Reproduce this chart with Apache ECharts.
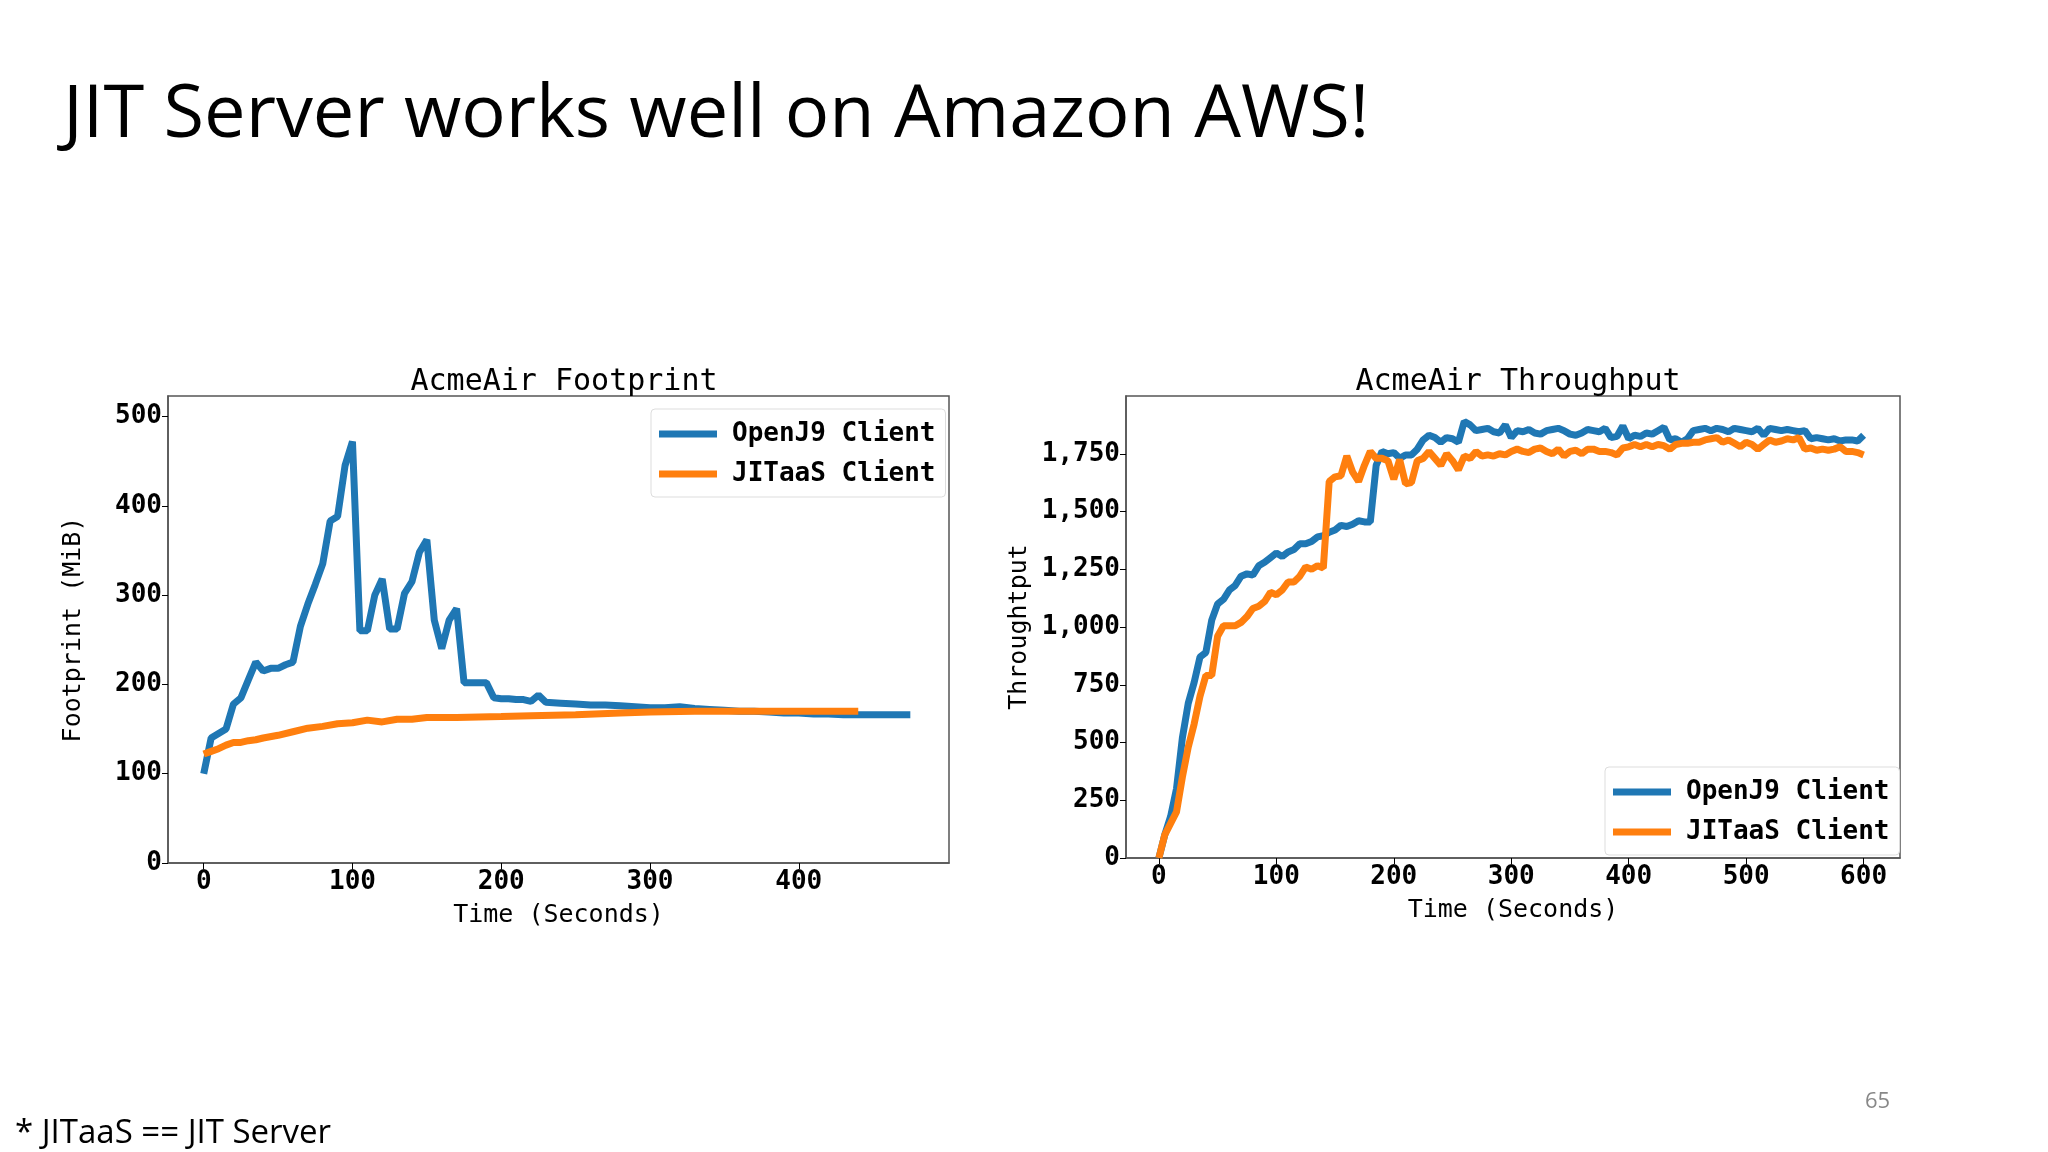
<!DOCTYPE html>
<html><head><meta charset="utf-8">
<script src="https://cdn.jsdelivr.net/npm/echarts@6/dist/echarts.min.js"></script>
<style>html,body{margin:0;padding:0;background:#fff}#c{width:2048px;height:1152px}</style>
</head><body><div id="c"></div>
<script>
const seriesNames = ['OpenJ9 Client', 'JITaaS Client'];
const fpOpenJ9 = [[0,100],[5,140],[10,145],[15,150],[20,178],[25,185],[30,205],[35,225],[40,215],[45,218],[50,218],[55,222],[60,225],[65,265],[70,290],[75,312],[80,335],[85,383],[90,388],[95,445],[100,472],[105,260],[110,260],[115,300],[120,318],[125,262],[130,262],[135,302],[140,315],[145,348],[150,362],[155,272],[160,240],[165,272],[170,285],[175,202],[180,202],[185,202],[190,202],[195,185],[200,184],[205,184],[210,183],[215,183],[220,181],[225,188],[230,180],[240,179],[250,178],[260,177],[270,177],[280,176],[290,175],[300,174],[310,174],[320,175],[330,173],[340,172],[350,171],[360,170],[370,170],[380,169],[390,168],[400,168],[410,167],[420,167],[430,166],[440,166],[450,166],[460,166],[475,166]];
const fpJITaaS = [[0,122],[5,125],[10,128],[15,132],[20,135],[25,135],[30,137],[35,138],[40,140],[50,143],[60,147],[70,151],[80,153],[90,156],[100,157],[110,160],[120,158],[130,161],[140,161],[150,163],[170,163],[200,164],[220,165],[250,166],[280,168],[300,169],[330,170],[360,170],[400,170],[440,170]];
const tpOpenJ9 = [[0,0],[5,100],[10,180],[15,300],[20,520],[25,670],[30,760],[35,870],[40,890],[45,1030],[50,1100],[55,1120],[60,1160],[65,1180],[70,1220],[75,1230],[80,1225],[85,1265],[90,1280],[95,1300],[100,1320],[105,1305],[110,1325],[115,1335],[120,1360],[125,1360],[130,1370],[135,1390],[140,1395],[145,1410],[150,1420],[155,1440],[160,1435],[165,1445],[170,1460],[175,1455],[180,1455],[185,1700],[190,1760],[195,1750],[200,1755],[205,1730],[210,1745],[215,1745],[220,1770],[225,1810],[230,1830],[235,1820],[240,1800],[245,1820],[250,1815],[255,1800],[260,1890],[265,1875],[270,1850],[275,1855],[280,1860],[285,1845],[290,1840],[295,1875],[300,1820],[305,1850],[310,1845],[315,1855],[320,1840],[325,1835],[330,1850],[335,1855],[340,1860],[345,1850],[350,1835],[355,1830],[360,1840],[365,1855],[370,1850],[375,1845],[380,1860],[385,1820],[390,1825],[395,1870],[400,1815],[405,1830],[410,1825],[415,1840],[420,1835],[425,1850],[430,1865],[435,1810],[440,1815],[445,1800],[450,1815],[455,1850],[460,1855],[465,1860],[470,1850],[475,1860],[480,1855],[485,1845],[490,1860],[495,1855],[500,1850],[505,1845],[510,1860],[515,1830],[520,1860],[525,1855],[530,1850],[535,1855],[540,1850],[545,1845],[550,1850],[555,1815],[560,1820],[565,1815],[570,1810],[575,1815],[580,1805],[585,1810],[590,1810],[595,1805],[600,1830]];
const tpJITaaS = [[0,0],[5,100],[10,150],[15,200],[20,350],[25,480],[30,580],[35,700],[40,790],[45,790],[50,960],[55,1005],[60,1005],[65,1005],[70,1020],[75,1045],[80,1080],[85,1090],[90,1110],[95,1150],[100,1140],[105,1160],[110,1195],[115,1195],[120,1220],[125,1260],[130,1250],[135,1265],[140,1255],[145,1630],[150,1650],[155,1655],[160,1740],[165,1670],[170,1630],[175,1700],[180,1760],[185,1730],[190,1730],[195,1720],[200,1640],[205,1725],[210,1620],[215,1625],[220,1720],[225,1730],[230,1760],[235,1730],[240,1700],[245,1750],[250,1720],[255,1680],[260,1740],[265,1730],[270,1760],[275,1740],[280,1745],[285,1740],[290,1750],[295,1745],[300,1760],[305,1770],[310,1760],[315,1755],[320,1770],[325,1775],[330,1760],[335,1750],[340,1770],[345,1740],[350,1760],[355,1765],[360,1750],[365,1770],[370,1770],[375,1760],[380,1760],[385,1755],[390,1745],[395,1775],[400,1780],[405,1790],[410,1780],[415,1790],[420,1780],[425,1790],[430,1785],[435,1770],[440,1790],[445,1795],[450,1795],[455,1800],[460,1800],[465,1810],[470,1815],[475,1820],[480,1800],[485,1810],[490,1795],[495,1780],[500,1800],[505,1790],[510,1770],[515,1790],[520,1810],[525,1800],[530,1805],[535,1815],[540,1810],[545,1820],[550,1770],[555,1775],[560,1765],[565,1770],[570,1765],[575,1770],[580,1780],[585,1760],[590,1760],[595,1755],[600,1745]];
const fpXTicks = [0,100,200,300,400];
const tpXTicks = [0,100,200,300,400,500,600];
const fpYTicks = [0,100,200,300,400,500];
const tpYTicks = [0,250,500,750,1000,1250,1500,1750];

const BLUE = '#1f77b4', ORANGE = '#ff7f0e';
const mono = 'DejaVu Sans Mono';
const tickLbl = {fontFamily: mono, fontWeight: 'bold', fontSize: 26, color: '#000'};
function xAx(gi, min, max, ticks) {
  return {gridIndex: gi, type: 'value', min, max,
    name: 'Time (Seconds)', nameLocation: 'middle', nameGap: 40,
    nameTextStyle: {fontFamily: mono, fontSize: 25, color: '#000'},
    axisLine: {show: true, onZero: false, lineStyle: {color: '#555', width: 1.5}}, splitLine: {show: false},
    axisTick: {show: true, length: 6, customValues: ticks, lineStyle: {color: '#000'}},
    axisLabel: Object.assign({}, tickLbl, {margin: 6, customValues: ticks})};
}
function yAx(gi, min, max, name, gap, ticks) {
  return {gridIndex: gi, type: 'value', min, max,
    name, nameLocation: 'middle', nameGap: gap,
    nameTextStyle: {fontFamily: mono, fontSize: 25, color: '#000'},
    axisLine: {show: true, onZero: false, lineStyle: {color: '#555', width: 1.5}}, splitLine: {show: false},
    axisTick: {show: true, length: 6, customValues: ticks, lineStyle: {color: '#000'}},
    axisLabel: Object.assign({}, tickLbl, {margin: 6, customValues: ticks})};
}
function ln(name, data, color, xi) {
  return {name, type: 'line', data, xAxisIndex: xi, yAxisIndex: xi, showSymbol: false, symbol: 'none',
    lineStyle: {color, width: 7}, itemStyle: {color}, silent: true, animation: false};
}
const legendBase = {orient: 'vertical', icon: 'rect', itemWidth: 58, itemHeight: 7, itemGap: 14,
  textStyle: {fontFamily: mono, fontWeight: 'bold', fontSize: 26, color: '#000', padding: [0, 0, 0, 10]},
  backgroundColor: '#fff', borderColor: '#ddd', borderWidth: 1, borderRadius: 4, padding: [12, 10, 10, 8]};

const chart = echarts.init(document.getElementById('c'));
chart.setOption({
  backgroundColor: '#fff',
  animation: false,
  title: [
    {text: 'JIT Server works well on Amazon AWS!', left: 58, top: 74,
      textStyle: {fontFamily: 'Open Sans', fontWeight: 'normal', fontSize: 74, color: '#000'}},
    {text: 'AcmeAir Footprint', left: 559, top: 362, textAlign: 'center',
      textStyle: {fontFamily: mono, fontWeight: 'normal', fontSize: 30, color: '#000'}},
    {text: 'AcmeAir Throughput', left: 1513, top: 362, textAlign: 'center',
      textStyle: {fontFamily: mono, fontWeight: 'normal', fontSize: 30, color: '#000'}},
    {text: '* JITaaS == JIT Server', left: 10, top: 1112,
      textStyle: {fontFamily: 'Open Sans', fontWeight: 'normal', fontSize: 33, color: '#000'}},
    {text: '65', left: 1860, top: 1086,
      textStyle: {fontFamily: 'Open Sans', fontWeight: 'normal', fontSize: 22, color: '#888'}}
  ],
  grid: [
    {left: 168, top: 396, width: 781, height: 467, show: true, borderColor: '#555', borderWidth: 1.5, backgroundColor: 'transparent'},
    {left: 1126, top: 396, width: 774, height: 462, show: true, borderColor: '#555', borderWidth: 1.5, backgroundColor: 'transparent'}
  ],
  xAxis: [xAx(0, -24, 501, fpXTicks), xAx(1, -28, 631, tpXTicks)],
  yAxis: [yAx(0, 0, 523, 'Footprint (MiB)', 82, fpYTicks), yAx(1, 0, 2000, 'Throughtput', 94, tpYTicks)],
  legend: [
    Object.assign({}, legendBase, {left: 651, top: 409, data: seriesNames}),
    Object.assign({}, legendBase, {left: 1605, top: 767, data: seriesNames.slice()})
  ],
  series: [
    ln('OpenJ9 Client', fpOpenJ9, BLUE, 0),
    ln('JITaaS Client', fpJITaaS, ORANGE, 0),
    ln('OpenJ9 Client', tpOpenJ9, BLUE, 1),
    ln('JITaaS Client', tpJITaaS, ORANGE, 1)
  ]
});
</script></body></html>
